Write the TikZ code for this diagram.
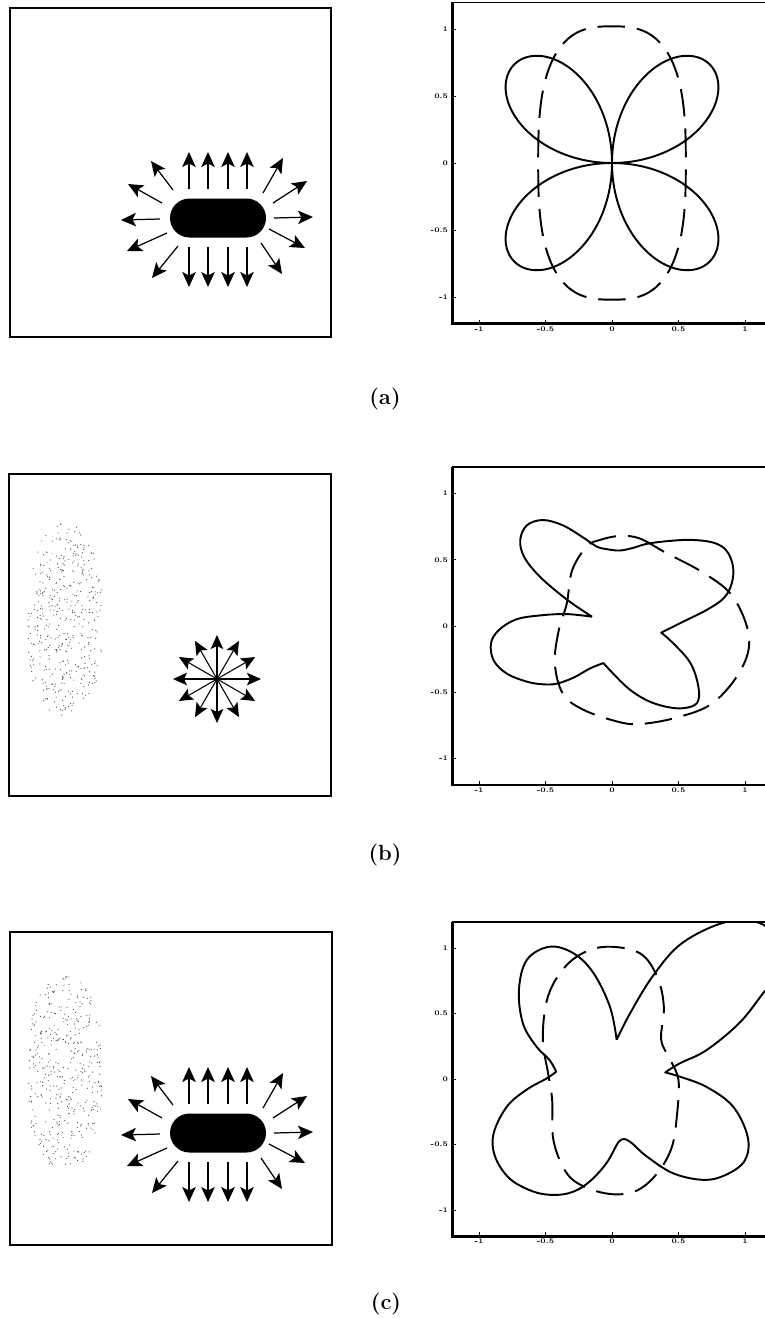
\documentclass[tikz,border=0pt]{standalone}
\usetikzlibrary{arrows.meta}

\newcommand{\plotframe}[1]{%
    \draw[style = frametop] (-1.2,-1.2) rectangle (1.2,1.2);
    \draw[style = axisline] (-1.2,1.2) -- (-1.2,-1.2) -- (1.2,-1.2);
    \foreach \tk/\lab [count = \k] in {-1/-1, -0.5/-0.5, 0/0, 0.5/0.5, 1/1} {
        \draw (\tk,-1.2) -- (\tk,-1.17);
        \draw (-1.2,\tk) -- (-1.17,\tk);
        \node[tick label, anchor = north] (#1x\k) at (\tk,-1.215) {\lab};
        \node[tick label, anchor = east] (#1y\k) at (-1.225,\tk) {\lab};
    }
}

\newcommand{\capsulerays}{%
    \fill[rounded corners = 0.39cm] (-48,-19.5) rectangle (48,19.5);
    \foreach \sx/\sy/\ex/\ey in {-29/-29/-29/-66, -10/-29/-10/-66, 10/-29/10/-66, 29/-29/29/-66,
            -29/29/-29/69, -10/29/-10/69, 10/29/10/69, 29/29/29/69,
            56/0/95/-1, -58/1/-97/2, 45/-25/65/-60, 55/-15/89/-37,
            -45/-28/-67/-57, -56/-15/-90/-34, 51/11/87/30, 43/25/64/56,
            -51/15/-91/33, -40/28/-66/60}
        \draw[ray] (\sx,\sy) -- (\ex,\ey);
}

\newcommand{\speckcloud}[2]{%
    \foreach \i in {1, ..., 520} {
        \pgfmathsetmacro{\cu}{rand}
        \pgfmathsetmacro{\cv}{rand}
        \pgfmathtruncatemacro{\keep}{(\cu*\cu + abs(\cv)^3 < 1) ? 1 : 0}
        \ifnum\keep = 1
            \fill[speck] ({#1+37*\cu}, {#2+97*\cv}) circle[radius = 0.6];
        \fi
    }
}

\begin{document}
\begin{tikzpicture}[x = 0.02cm, y = -0.02cm,
        panel/.style = {line width = 0.8pt},
        ray/.style = {line width = 0.7pt, -{Stealth[length = 0.3cm, width = 0.27cm, inset = 0.07cm]}},
        spoke/.style = {line width = 0.6pt, -{Stealth[length = 0.28cm, width = 0.25cm, inset = 0.06cm]}},
        trace/.style = {line width = 1.1pt, line join = round},
        dashtrace/.style = {trace, dash pattern = on 0.55cm off 0.24cm},
        frametop/.style = {line width = 0.8pt},
        axisline/.style = {line width = 1.5pt},
        speck/.style = {fill = black!70},
        tick label/.style = {font = \fontsize{4}{4}\selectfont\bfseries, inner sep = 0.4pt},
        panel label/.style = {font = \fontsize{12.5}{15}\selectfont\bfseries}]
    \useasboundingbox (0,0) rectangle (764,1318);
    \pgfmathsetseed{4711}

    % (a)
    \draw[panel] (10,8) rectangle (331,337);
    \begin{scope}[shift = {(218,218)}]
        \capsulerays
    \end{scope}
    \begin{scope}[shift = {(612,163)}, x = 2.66cm, y = 2.68cm]
        \plotframe{pa}
        \begin{scope}
            \clip (-1.2,-1.2) rectangle (1.2,1.2);
            \draw[trace] plot[domain = 0:360, samples = 241, smooth] ({1.04*sin(2*\x)*cos(\x)}, {1.04*sin(2*\x)*sin(\x)});
            \draw[dashtrace] plot[domain = 0:360, samples = 121, smooth cycle] ({0.555*cos(\x)*pow(abs(cos(\x))^2.8+abs(sin(\x))^2.8,-1/2.8)}, {1.02*sin(\x)*pow(abs(cos(\x))^2.8+abs(sin(\x))^2.8,-1/2.8)});
        \end{scope}
    \end{scope}
    \node[panel label] (capa) at (385,399) {(a)};

    % (b)
    \draw[panel] (9,474) rectangle (331,796);
    \speckcloud{65}{620}
    \begin{scope}[shift = {(217,679)}]
        \foreach \a in {0, 30, ..., 330}
            \draw[spoke] (0,0) -- (\a:44);
        \fill (0,0) circle[radius = 2];
    \end{scope}
    \begin{scope}[shift = {(612,626)}, x = 2.66cm, y = 2.65cm]
        \plotframe{pb}
        \begin{scope}
            \clip (-1.2,-1.2) rectangle (1.2,1.2);
            \draw[trace] plot[smooth, tension = 0.6] coordinates{(-0.15,0.07) (-0.34,0.2) (-0.54,0.37) (-0.66,0.52) (-0.69,0.65) (-0.64,0.76) (-0.52,0.8) (-0.37,0.76) (-0.22,0.67) (-0.115,0.6) (-0.04,0.58) (0.06,0.57) (0.16,0.59) (0.26,0.62) (0.41,0.64) (0.59,0.65) (0.76,0.63) (0.86,0.57) (0.91,0.45) (0.9,0.32) (0.84,0.21) (0.71,0.12) (0.56,0.045) (0.43,-0.02) (0.37,-0.05)}
                -- plot[smooth, tension = 0.6] coordinates{(0.37,-0.05) (0.46,-0.13) (0.59,-0.28) (0.65,-0.46) (0.64,-0.58) (0.54,-0.62) (0.41,-0.61) (0.26,-0.56) (0.11,-0.46) (-0.065,-0.28)}
                -- plot[smooth, tension = 0.6] coordinates{(-0.065,-0.28) (-0.165,-0.32) (-0.29,-0.39) (-0.415,-0.435) (-0.52,-0.44) (-0.64,-0.42) (-0.79,-0.36) (-0.89,-0.26) (-0.91,-0.13) (-0.85,-0.03) (-0.72,0.05) (-0.54,0.08) (-0.34,0.09) (-0.15,0.07)};
            \draw[dashtrace] plot[smooth cycle, tension = 0.6] coordinates{(0.06,0.68) (0.21,0.66) (0.41,0.55) (0.69,0.4) (0.91,0.22) (1.03,-0.08) (0.97,-0.33) (0.76,-0.58) (0.49,-0.69) (0.21,-0.74) (0.035,-0.72) (-0.22,-0.63) (-0.37,-0.51) (-0.43,-0.28) (-0.4,-0.03) (-0.34,0.17) (-0.3,0.42) (-0.19,0.6) (-0.09,0.65)};
        \end{scope}
    \end{scope}
    \node[panel label] (capb) at (385,855) {(b)};

    % (c)
    \draw[panel] (10,932) rectangle (332,1245);
    \speckcloud{65}{1073}
    \begin{scope}[shift = {(218,1133)}]
        \capsulerays
    \end{scope}
    \begin{scope}[shift = {(612,1079)}, x = 2.66cm, y = 2.62cm]
        \plotframe{pc}
        \begin{scope}
            \clip (-1.2,-1.2) rectangle (1.2,1.2);
            \draw[trace] plot[smooth, tension = 0.6] coordinates{(0.035,0.30) (0.135,0.5) (0.31,0.79) (0.53,1.04) (0.865,1.2) (1.135,1.18) (1.25,1.0) (1.25,0.8) (1.14,0.66) (0.96,0.43) (0.71,0.22) (0.51,0.12) (0.40,0.05)}
                -- plot[smooth, tension = 0.6] coordinates{(0.40,0.05) (0.51,0.018) (0.71,-0.06) (0.91,-0.21) (1.02,-0.44) (1.0,-0.62) (0.86,-0.73) (0.69,-0.77) (0.46,-0.72) (0.26,-0.59) (0.15,-0.49) (0.1,-0.46)}
                -- plot[smooth, tension = 0.6] coordinates{(0.1,-0.46) (0.05,-0.48) (-0.04,-0.64) (-0.165,-0.78) (-0.29,-0.86) (-0.43,-0.885) (-0.59,-0.86) (-0.77,-0.76) (-0.88,-0.59) (-0.89,-0.415) (-0.79,-0.21) (-0.64,-0.08) (-0.49,0.005) (-0.42,0.056)}
                -- plot[smooth, tension = 0.6] coordinates{(-0.42,0.056) (-0.47,0.145) (-0.57,0.25) (-0.67,0.425) (-0.70,0.68) (-0.64,0.91) (-0.47,1.01) (-0.29,0.96) (-0.14,0.81) (-0.015,0.55) (0.035,0.30)};
            \draw[dashtrace] plot[smooth cycle, tension = 0.6] coordinates{(-0.04,1.01) (0.21,0.96) (0.34,0.78) (0.39,0.55) (0.37,0.30) (0.44,0.145) (0.50,-0.01) (0.49,-0.26) (0.45,-0.52) (0.34,-0.72) (0.19,-0.85) (0.01,-0.88) (-0.19,-0.83) (-0.34,-0.72) (-0.44,-0.47) (-0.45,-0.16) (-0.48,0.04) (-0.52,0.30) (-0.49,0.60) (-0.39,0.81) (-0.24,0.95)};
        \end{scope}
    \end{scope}
    \node[panel label] (capc) at (386,1304) {(c)};
\end{tikzpicture}
\end{document}
